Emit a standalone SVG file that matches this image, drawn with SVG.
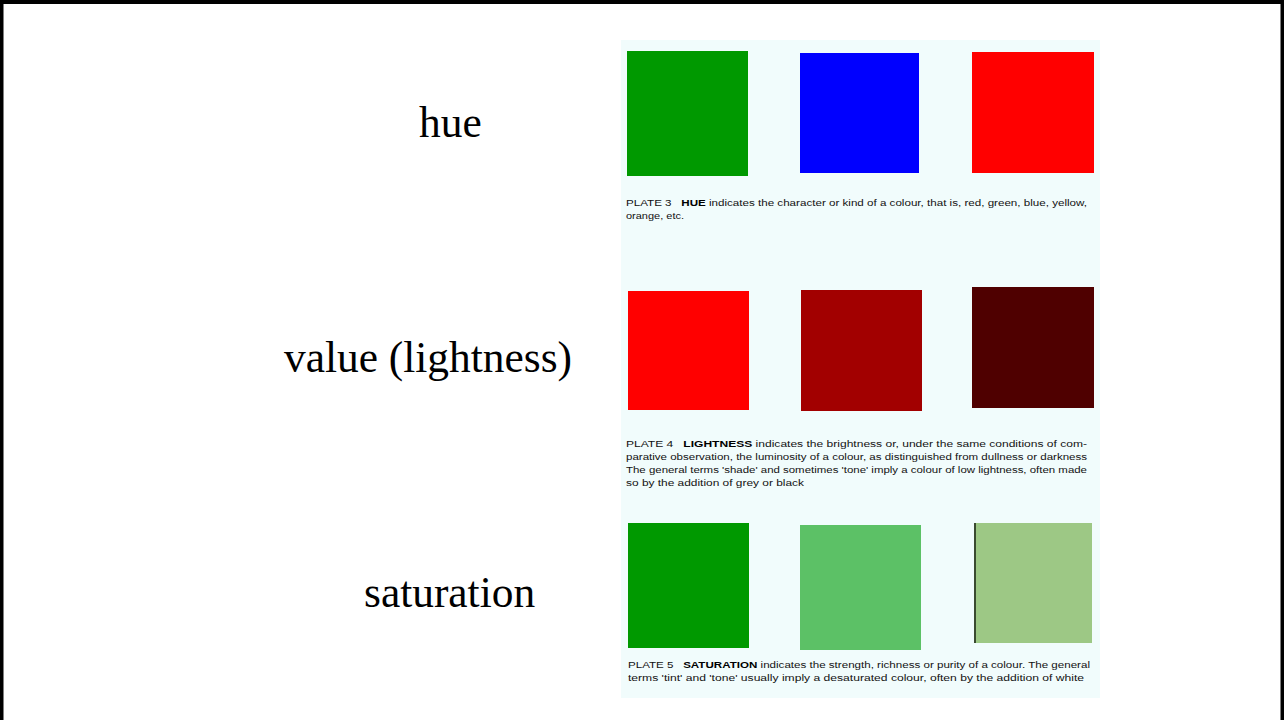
<svg xmlns="http://www.w3.org/2000/svg" width="1284" height="720" viewBox="0 0 1284 720">
<style>
.lbl{font-family:"Liberation Serif","Times New Roman",serif;font-size:43.4px;fill:#000}
.cap{font-family:"Liberation Sans",Arial,sans-serif;font-size:9.2px;fill:#111}
.b{font-weight:bold;fill:#000}
</style>
<rect x="0" y="0" width="1284" height="720" fill="#fff"/>
<path d="M1.5,722 V2 H1282.5 V722" fill="none" stroke="#000" stroke-width="4"/>
<g id="labels">
<text class="lbl" x="419" y="137">hue</text>
<text class="lbl" x="284" y="372">value (lightness)</text>
<text class="lbl" x="364" y="607">saturation</text>
</g>
<g id="plate">
<rect x="621" y="40" width="479" height="658" fill="#f1fcfc"/>
<g id="hue">
<rect x="627" y="51" width="121" height="125" fill="#009900"/>
<rect x="800" y="53" width="119" height="120" fill="#0000ff"/>
<rect x="972" y="52" width="122" height="121" fill="#ff0000"/>
<text class="cap" x="626" y="206" textLength="461" lengthAdjust="spacingAndGlyphs">PLATE 3&#160;&#160;&#160;<tspan class="b">HUE</tspan> indicates the character or kind of a colour, that is, red, green, blue, yellow,</text>
<text class="cap" x="626" y="219" textLength="58" lengthAdjust="spacingAndGlyphs">orange, etc.</text>
</g>
<g id="value">
<rect x="628" y="291" width="121" height="119" fill="#ff0000"/>
<rect x="801" y="290" width="121" height="121" fill="#a20000"/>
<rect x="972" y="287" width="122" height="121" fill="#4f0000"/>
<text class="cap" x="626" y="447" textLength="461" lengthAdjust="spacingAndGlyphs">PLATE 4&#160;&#160;&#160;<tspan class="b">LIGHTNESS</tspan> indicates the brightness or, under the same conditions of com-</text>
<text class="cap" x="626" y="460" textLength="461" lengthAdjust="spacingAndGlyphs">parative observation, the luminosity of a colour, as distinguished from dullness or darkness</text>
<text class="cap" x="626" y="473" textLength="461" lengthAdjust="spacingAndGlyphs">The general terms 'shade' and sometimes 'tone' imply a colour of low lightness, often made</text>
<text class="cap" x="626" y="486" textLength="178" lengthAdjust="spacingAndGlyphs">so by the addition of grey or black</text>
</g>
<g id="saturation">
<rect x="628" y="523" width="121" height="125" fill="#009900"/>
<rect x="800" y="525" width="121" height="125" fill="#5cc166"/>
<rect x="974" y="523" width="118" height="120" fill="#9dc885"/>
<rect x="974" y="523" width="2" height="120" fill="#3a4a30"/>
<text class="cap" x="628" y="668" textLength="462" lengthAdjust="spacingAndGlyphs">PLATE 5&#160;&#160;&#160;<tspan class="b">SATURATION</tspan> indicates the strength, richness or purity of a colour. The general</text>
<text class="cap" x="628" y="681" textLength="456" lengthAdjust="spacingAndGlyphs">terms 'tint' and 'tone' usually imply a desaturated colour, often by the addition of white</text>
</g>
</g>
</svg>
